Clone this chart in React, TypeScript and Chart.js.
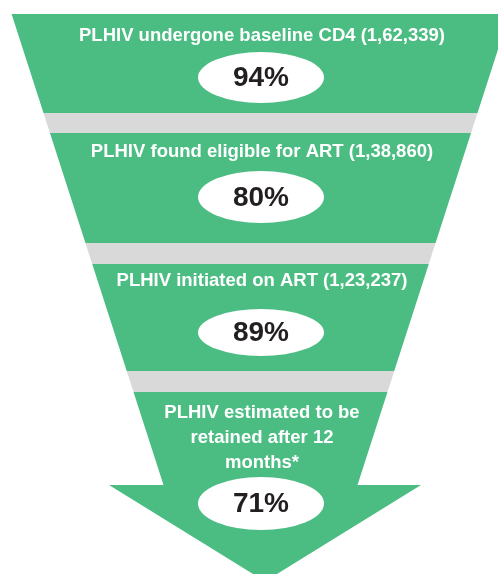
import React, { useEffect, useRef } from "react";
import { Chart, registerables } from "chart.js";

Chart.register(...registerables);

// ---------------- DATA ----------------
const STAGE_NAMES: string[] = [
  "PLHIV undergone baseline CD4",
  "PLHIV found eligible for ART",
  "PLHIV initiated on ART",
  "PLHIV estimated to be\nretained after 12\nmonths*",
];
const STAGE_COUNTS: (number | null)[] = [162339, 138860, 123237, null];
const STAGE_PERCENTS: number[] = [94, 80, 89, 71];

// ---------------- LAYOUT (design units = scale units) ----------------
const W = 498;
const H = 574;
const BODY_CX = 260.5;
const halfWidthAt = (y: number) => 217 - 0.3226 * (y - 113);
const BANDS: [number, number][] = [
  [14, 113],
  [133, 243],
  [264, 371],
  [392, 485],
];
const HEAD = { cx: 265, y: 485, hw: 156, tipY: 581.4 };
const TITLE_Y: number[] = [35.5, 151.5, 280.5, 412.5];
const TITLE_LINE_GAP = 25;
const ELLIPSES = [
  { y: 77.5, ry: 25.5 },
  { y: 197, ry: 26 },
  { y: 332.5, ry: 23.5 },
  { y: 503.5, ry: 26.5 },
];
const ELLIPSE_CX = 261;
const ELLIPSE_RX = 63;

const GREEN = "#4BBD83";
const GRAY = "#D9D9D9";
const TEXT_DARK = "#231F20";
const FONT = "'Liberation Sans', Arial, Helvetica, sans-serif";

function formatIndian(n: number): string {
  const s = String(Math.round(n));
  if (s.length <= 3) return s;
  const last3 = s.slice(-3);
  let rest = s.slice(0, -3);
  const parts: string[] = [];
  while (rest.length > 2) {
    parts.unshift(rest.slice(-2));
    rest = rest.slice(0, -2);
  }
  if (rest) parts.unshift(rest);
  return parts.join(",") + "," + last3;
}

function stageTitleLines(i: number): string[] {
  const count = STAGE_COUNTS[i];
  const base = STAGE_NAMES[i] + (count != null ? ` (${formatIndian(count)})` : "");
  return base.split("\n");
}

function trapezoid(top: number, bot: number) {
  return [
    { x: BODY_CX - halfWidthAt(top), y: top },
    { x: BODY_CX + halfWidthAt(top), y: top },
    { x: BODY_CX + halfWidthAt(bot), y: bot },
    { x: BODY_CX - halfWidthAt(bot), y: bot },
  ];
}

function arrowShape(top: number, bot: number) {
  return [
    { x: BODY_CX - halfWidthAt(top), y: top },
    { x: BODY_CX + halfWidthAt(top), y: top },
    { x: BODY_CX + halfWidthAt(bot), y: bot },
    { x: HEAD.cx + HEAD.hw, y: HEAD.y },
    { x: HEAD.cx, y: HEAD.tipY },
    { x: HEAD.cx - HEAD.hw, y: HEAD.y },
    { x: BODY_CX - halfWidthAt(bot), y: bot },
  ];
}

function buildDatasets() {
  const ds: any[] = [];
  STAGE_PERCENTS.forEach((_, i) => {
    const [top, bot] = BANDS[i];
    const isLast = i === STAGE_PERCENTS.length - 1;
    ds.push({
      label: STAGE_NAMES[i],
      data: isLast ? arrowShape(top, bot) : trapezoid(top, bot),
      backgroundColor: GREEN,
      borderColor: "rgba(0,0,0,0)",
      borderWidth: 0,
      pointRadius: 0,
      fill: "shape",
      tension: 0,
    });
    if (!isLast) {
      const gTop = bot;
      const gBot = BANDS[i + 1][0];
      ds.push({
        label: "gap" + i,
        data: trapezoid(gTop, gBot),
        backgroundColor: GRAY,
        borderColor: "rgba(0,0,0,0)",
        borderWidth: 0,
        pointRadius: 0,
        fill: "shape",
        tension: 0,
      });
    }
  });
  return ds;
}

const labelPlugin = {
  id: "funnelLabels",
  afterDatasetsDraw(chart: any) {
    const ctx: CanvasRenderingContext2D = chart.ctx;
    const xs = chart.scales.x;
    const ys = chart.scales.y;
    const px = (v: number) => xs.getPixelForValue(v);
    const py = (v: number) => ys.getPixelForValue(v);
    ctx.save();
    STAGE_PERCENTS.forEach((pct, i) => {
      // title
      ctx.fillStyle = "#FFFFFF";
      ctx.font = `bold 18.5px ${FONT}`;
      ctx.textAlign = "center";
      ctx.textBaseline = "middle";
      stageTitleLines(i).forEach((line, k) => {
        ctx.fillText(line, px(BODY_CX + 1.5), py(TITLE_Y[i] + k * TITLE_LINE_GAP));
      });
      // ellipse
      const e = ELLIPSES[i];
      const cx = px(ELLIPSE_CX);
      const cy = py(e.y);
      const rx = Math.abs(px(ELLIPSE_CX + ELLIPSE_RX) - cx);
      const ry = Math.abs(py(e.y + e.ry) - cy);
      ctx.beginPath();
      ctx.ellipse(cx, cy, rx, ry, 0, 0, Math.PI * 2);
      ctx.fillStyle = "#FFFFFF";
      ctx.fill();
      // percent
      ctx.fillStyle = TEXT_DARK;
      ctx.font = `bold 28px ${FONT}`;
      ctx.fillText(`${pct}%`, cx, cy + 1);
    });
    ctx.restore();
  },
};

export default function App() {
  const ref = useRef<HTMLCanvasElement>(null);
  useEffect(() => {
    document.body.style.margin = "0";
    const chart = new Chart(ref.current as HTMLCanvasElement, {
      type: "line",
      data: { datasets: buildDatasets() },
      options: {
        animation: false,
        responsive: false,
        events: [],
        layout: { padding: 0 },
        scales: {
          x: { type: "linear", min: 0, max: W, display: false },
          y: { type: "linear", min: 0, max: H, reverse: true, display: false },
        },
        plugins: {
          legend: { display: false },
          tooltip: { enabled: false },
        },
      },
      plugins: [labelPlugin],
    } as any);
    return () => chart.destroy();
  }, []);
  return (
    <div style={{ width: W, height: H }}>
      <canvas ref={ref} width={W} height={H} />
    </div>
  );
}
